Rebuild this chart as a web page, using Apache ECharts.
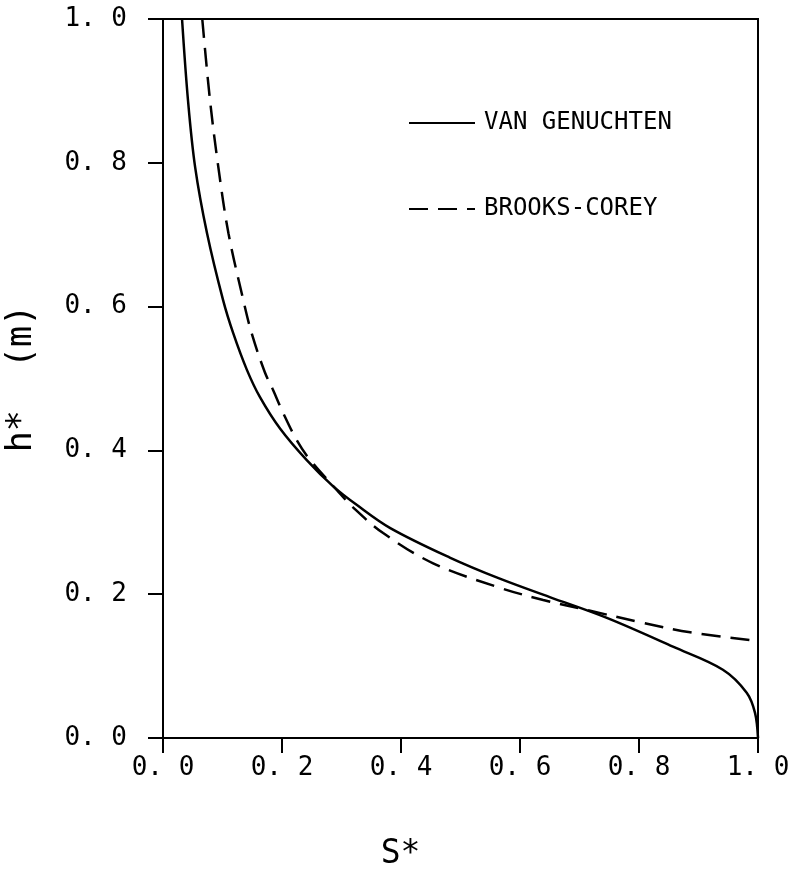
<!DOCTYPE html>
<html>
<head>
<meta charset="utf-8">
<script src="https://cdn.jsdelivr.net/npm/echarts@6/dist/echarts.min.js"></script>
<style>
html,body{margin:0;padding:0;background:#fff;}
#chart{width:788px;height:871px;}
</style>
</head>
<body>
<div id="chart"></div>
<script>
// Van Genuchten curve (solid): saturation S* and head h* (m)
const vgS = [0.032, 0.042, 0.054, 0.074, 0.101, 0.118, 0.141, 0.163, 0.197, 0.242, 0.286, 0.326, 0.382, 0.482, 0.565, 0.650, 0.746, 0.857, 0.941, 0.981, 0.995, 1.000];
const vgH = [1.000, 0.887, 0.794, 0.702, 0.609, 0.563, 0.512, 0.474, 0.430, 0.386, 0.350, 0.324, 0.292, 0.251, 0.222, 0.196, 0.167, 0.127, 0.095, 0.063, 0.035, 0.000];
// Brooks-Corey curve (dashed)
const bcS = [0.066, 0.079, 0.093, 0.110, 0.135, 0.149, 0.171, 0.185, 0.202, 0.225, 0.247, 0.292, 0.319, 0.370, 0.454, 0.566, 0.639, 0.718, 0.802, 0.886, 1.000];
const bcH = [1.000, 0.887, 0.794, 0.702, 0.609, 0.563, 0.509, 0.484, 0.452, 0.414, 0.387, 0.345, 0.321, 0.285, 0.243, 0.209, 0.192, 0.177, 0.161, 0.147, 0.135];
const seriesNames = ['VAN GENUCHTEN', 'BROOKS-COREY'];
const xTicks = [0.0, 0.2, 0.4, 0.6, 0.8, 1.0];
const yTicks = [0.0, 0.2, 0.4, 0.6, 0.8, 1.0];
const xTitle = 'S*';
const yTitle = 'h*  (m)';

const pairs = (a, b) => a.map((v, i) => [v, b[i]]);
const fmt = v => v.toFixed(1).replace('.', '. ');
const mono = 'DejaVu Sans Mono';

const chart = echarts.init(document.getElementById('chart'), null, {renderer: 'canvas'});
chart.setOption({
  backgroundColor: '#fff',
  animation: false,
  grid: {left: 163, right: 30, top: 19, bottom: 133, containLabel: false, outerBoundsMode: 'none',
         show: true, borderColor: '#000', borderWidth: 2, backgroundColor: 'transparent'},
  legend: {
    orient: 'vertical',
    left: 408, top: 111, padding: 0,
    itemWidth: 66, itemHeight: 14, itemGap: 62,
    itemStyle: {opacity: 0},
    textStyle: {fontFamily: mono, fontSize: 24, color: '#000', padding: [0, 0, 0, 4]},
    data: seriesNames
  },
  xAxis: {
    type: 'value', min: xTicks[0], max: xTicks[xTicks.length - 1], interval: 0.2,
    axisLine: {show: true, lineStyle: {color: '#000', width: 2}},
    axisTick: {show: true, inside: false, length: 15, lineStyle: {color: '#000', width: 2}},
    splitLine: {show: false},
    axisLabel: {margin: 17, fontFamily: mono, fontSize: 26, color: '#000', formatter: fmt},
    name: xTitle, nameLocation: 'middle', nameGap: 100,
    nameTextStyle: {fontFamily: mono, fontSize: 33, color: '#000', padding: [0, 120, 0, 0]}
  },
  yAxis: {
    type: 'value', min: yTicks[0], max: yTicks[yTicks.length - 1], interval: 0.2,
    axisLine: {show: true, lineStyle: {color: '#000', width: 2}},
    axisTick: {show: true, inside: false, length: 15, lineStyle: {color: '#000', width: 2}},
    splitLine: {show: false},
    axisLabel: {margin: 36, fontFamily: mono, fontSize: 26, color: '#000', formatter: fmt},
    name: yTitle, nameLocation: 'middle', nameGap: 124, nameRotate: 90,
    nameTextStyle: {fontFamily: mono, fontSize: 35, color: '#000'}
  },
  series: [
    {
      name: seriesNames[0], type: 'line', data: pairs(vgS, vgH),
      smooth: 0.35, symbol: 'none', clip: true,
      lineStyle: {color: '#000', width: 2.5, type: 'solid'},
      itemStyle: {color: '#000'}
    },
    {
      name: seriesNames[1], type: 'line', data: pairs(bcS, bcH),
      smooth: 0.35, symbol: 'none', clip: true,
      lineStyle: {color: '#000', width: 2.5, type: [19, 10]},
      itemStyle: {color: '#000'}
    }
  ]
});
</script>
</body>
</html>
